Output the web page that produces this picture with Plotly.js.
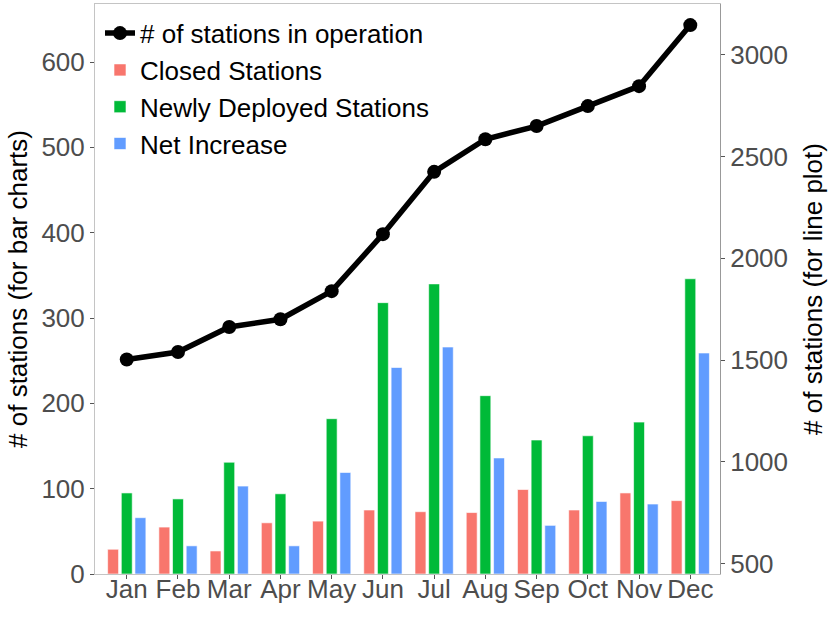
<!DOCTYPE html>
<html>
<head>
<meta charset="utf-8">
<script src="https://cdn.plot.ly/plotly-3.0.1.min.js"></script>
<style>html,body{margin:0;padding:0;background:#fff;}#chart{width:830px;height:618px;}</style>
</head>
<body>
<div id="chart"></div>
<script>
var months = ["Jan","Feb","Mar","Apr","May","Jun","Jul","Aug","Sep","Oct","Nov","Dec"];
var closedStations = [29,55,27,60,62,75,73,72,99,75,95,86];
var newStations = [95,88,131,94,182,318,340,209,157,162,178,346];
var netIncrease = [66,33,103,33,119,242,266,136,57,85,82,259];
var inOperation = [1503,1540,1663,1701,1839,2119,2425,2585,2650,2748,2846,3146];

var fontFam = "Liberation Sans, Arial, sans-serif";
var barLine = {color: "rgba(255,255,255,0.6)", width: 1};

var data = [
  {type: "scatter", mode: "lines+markers", name: "# of stations in operation",
   x: months, y: inOperation, yaxis: "y2",
   line: {color: "#000", width: 5.5}, marker: {color: "#000", size: 14}},
  {type: "bar", name: "Closed Stations", x: months, y: closedStations,
   marker: {color: "#F8766D", line: barLine}},
  {type: "bar", name: "Newly Deployed Stations", x: months, y: newStations,
   marker: {color: "#00BA38", line: barLine}},
  {type: "bar", name: "Net Increase", x: months, y: netIncrease,
   marker: {color: "#619CFF", line: barLine}}
];

var layout = {
  width: 830, height: 618,
  margin: {l: 95, r: 110, t: 4, b: 44, pad: 0},
  paper_bgcolor: "#fff", plot_bgcolor: "#fff",
  font: {family: fontFam, size: 26, color: "#000"},
  barmode: "group", bargap: 0.2, bargroupgap: 0.2,
  showlegend: true,
  legend: {x: 0.008, y: 0.99, xanchor: "left", yanchor: "top",
           bgcolor: "rgba(0,0,0,0)", font: {family: fontFam, size: 26, color: "#000"},
           traceorder: "normal", itemwidth: 30, tracegroupgap: 0},
  xaxis: {type: "category", range: [-0.62, 11.58], showgrid: false, zeroline: false,
          showline: true, mirror: true, linecolor: "#c4c4c4", linewidth: 1,
          ticks: "outside", ticklen: 4, tickcolor: "#555", ticklabelstandoff: -12,
          tickfont: {family: fontFam, size: 26, color: "#4d4d4d"}, layer: "below traces",
          fixedrange: true},
  yaxis: {range: [0, 668], showgrid: false, zeroline: false,
          showline: true, linecolor: "#c4c4c4", linewidth: 1,
          tickvals: [0,100,200,300,400,500,600],
          ticks: "outside", ticklen: 4, tickcolor: "#555",
          tickfont: {family: fontFam, size: 26, color: "#4d4d4d"},
          title: {text: "# of stations (for bar charts)", font: {family: fontFam, size: 26, color: "#000"}, standoff: 6},
          layer: "below traces"},
  yaxis2: {overlaying: "y", side: "right", range: [449.4, 3249.6], showgrid: false, zeroline: false,
           showline: true, linecolor: "#999", linewidth: 1,
           tickvals: [500,1000,1500,2000,2500,3000],
           ticks: "outside", ticklen: 4, tickcolor: "#555",
           tickfont: {family: fontFam, size: 26, color: "#4d4d4d"},
           title: {text: "# of stations (for line plot)", font: {family: fontFam, size: 26, color: "#000"}, standoff: 16}}
};

Plotly.newPlot("chart", data, layout, {displayModeBar: false, staticPlot: true});
</script>
</body>
</html>
